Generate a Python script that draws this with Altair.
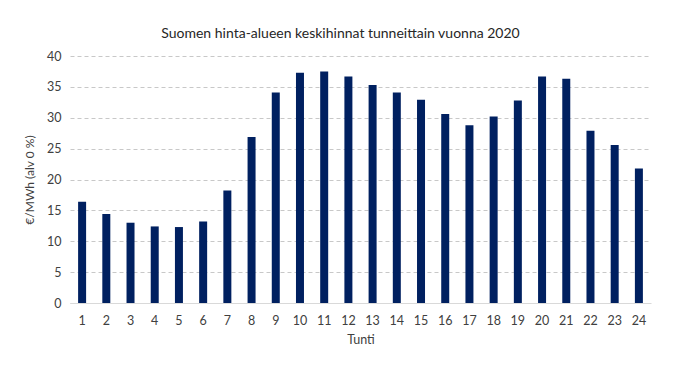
import altair as alt
import pandas as pd

hours = list(range(1, 25))
prices = [16.4, 14.4, 13.0, 12.4, 12.3, 13.2, 18.2, 26.9, 34.1, 37.3, 37.5, 36.7,
          35.3, 34.1, 32.9, 30.6, 28.8, 30.2, 32.8, 36.7, 36.3, 27.9, 25.6, 21.8]

df = pd.DataFrame({"Tunti": hours, "Hinta": prices})

FONT = "Lato"

chart = alt.Chart(df).mark_bar(size=8, color="#002060").encode(
    x=alt.X("Tunti:O", title="Tunti",
            axis=alt.Axis(labelAngle=0, ticks=False, domainColor="#d9d9d9",
                          labelPadding=11, titlePadding=7, labelFontSize=12.5,
                          titleFontSize=12.5, labelColor="#404040", titleColor="#404040",
                          titleFontWeight="normal", labelFont=FONT, titleFont=FONT)),
    y=alt.Y("Hinta:Q", title="€/MWh (alv 0 %)",
            scale=alt.Scale(domain=[0, 40]),
            axis=alt.Axis(values=[0, 5, 10, 15, 20, 25, 30, 35, 40], ticks=False, domain=False,
                          gridDash=[4, 3], gridColor="#c8c8c8", labelPadding=9,
                          labelFontSize=12.5, titleFontSize=12, labelColor="#404040",
                          titleColor="#404040", titleFontWeight="normal", titlePadding=10,
                          labelFont=FONT, titleFont=FONT)),
).properties(
    width=581, height=247,
    title=alt.TitleParams("Suomen hinta-alueen keskihinnat tunneittain vuonna 2020",
                          fontSize=14, font=FONT, fontWeight="normal", color="#262626",
                          offset=9, dx=-20),
    autosize=alt.AutoSizeParams(type="none"),
    padding={"left": 62, "top": 48, "right": 20, "bottom": 50},
).configure_view(stroke=None)

chart.save("out.html", embed_options={"renderer": "svg", "actions": False})
